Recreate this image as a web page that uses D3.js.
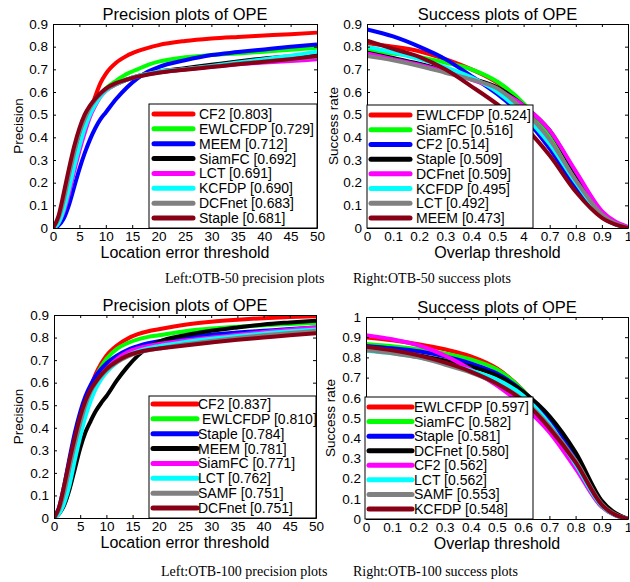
<!DOCTYPE html>
<html>
<head>
<meta charset="utf-8">
<script src="https://cdn.jsdelivr.net/npm/d3@7"></script>
<style>
  html, body { margin: 0; padding: 0; background: #fff; }
  svg { display: block; }
  .axis text { font-family: "Liberation Sans", Arial, sans-serif; font-size: 13.5px; fill: #000; }
  .axis path, .axis line { stroke: #000; stroke-width: 1; }
  .lbl { font-family: "Liberation Sans", Arial, sans-serif; fill: #000; }
  .cap { font-family: "Liberation Serif", "Times New Roman", serif; font-size: 14px; fill: #000; }
</style>
</head>
<body>
<div id="chart"></div>
<script>
// colours used by every panel, in legend order
var colors = ["#ff0000", "#00ff00", "#0000ff", "#000000", "#ff00ff", "#00ffff", "#808080", "#880015"];

// x values of the sampled points
var precX = [0,1,2,3,4,5,6,7,8,9,10,12,14,16,18,20,25,30,35,40,45,50];
var succX = [0,0.1,0.2,0.3,0.4,0.5,0.6,0.7,0.8,0.9,1];

// tick labels
var precXTicks = [0,5,10,15,20,25,30,35,40,45,50];
var precYTicks = [0,0.1,0.2,0.3,0.4,0.5,0.6,0.7,0.8,0.9];
var precYLabels = ["0","0.1","0.2","0.3","0.4","0.5","0.6","0.7","0.8","0.9"];
var succXTicks = [0,0.1,0.2,0.3,0.4,0.5,0.6,0.7,0.8,0.9,1];
var succXLabels50 = ["0","0.1","0.2","0.3","0.4","0.5","4","0.7","0.8","0.9","1"];
var succXLabels100 = ["0","0.1","0.2","0.3","0.4","0.5","0.6","0.7","0.8","0.9","1"];
var succYTicks100 = [0,0.1,0.2,0.3,0.4,0.5,0.6,0.7,0.8,0.9,1];
var succYLabels100 = ["0","0.1","0.2","0.3","0.4","0.5","0.6","0.7","0.8","0.9","1"];

// OTB-50 precision
var p50Names = ["CF2 [0.803]","EWLCFDP [0.729]","MEEM [0.712]","SiamFC [0.692]","LCT [0.691]","KCFDP [0.690]","DCFnet [0.683]","Staple [0.681]"];
var p50Values = [
  [0,0.03,0.09,0.17,0.27,0.36,0.44,0.51,0.58,0.64,0.68,0.73,0.76,0.78,0.795,0.807,0.825,0.836,0.843,0.849,0.855,0.862],
  [0,0.03,0.10,0.19,0.29,0.38,0.46,0.52,0.56,0.59,0.615,0.65,0.68,0.70,0.72,0.734,0.753,0.763,0.77,0.778,0.786,0.795],
  [0,0.01,0.04,0.10,0.18,0.26,0.33,0.39,0.44,0.48,0.51,0.57,0.62,0.66,0.69,0.71,0.74,0.763,0.776,0.788,0.80,0.81],
  [0,0.03,0.11,0.21,0.31,0.40,0.47,0.52,0.56,0.59,0.61,0.635,0.655,0.67,0.68,0.69,0.705,0.72,0.735,0.748,0.757,0.765],
  [0,0.02,0.07,0.15,0.25,0.34,0.42,0.49,0.54,0.58,0.605,0.635,0.655,0.67,0.68,0.688,0.70,0.712,0.722,0.73,0.737,0.744],
  [0,0.02,0.08,0.17,0.27,0.36,0.44,0.50,0.545,0.58,0.605,0.635,0.655,0.67,0.68,0.69,0.70,0.715,0.73,0.745,0.76,0.778],
  [0,0.04,0.12,0.23,0.33,0.42,0.48,0.53,0.565,0.59,0.61,0.635,0.655,0.668,0.678,0.686,0.70,0.712,0.725,0.735,0.745,0.755],
  [0,0.05,0.15,0.26,0.36,0.44,0.50,0.54,0.57,0.595,0.615,0.64,0.655,0.668,0.677,0.685,0.698,0.71,0.722,0.733,0.745,0.759]
];

// OTB-50 success
var s50Names = ["EWLCFDP [0.524]","SiamFC [0.516]","CF2 [0.514]","Staple [0.509]","DCFnet [0.509]","KCFDP [0.495]","LCT [0.492]","MEEM [0.473]"];
var s50Values = [
  [0.815,0.80,0.78,0.745,0.70,0.64,0.54,0.40,0.22,0.06,0],
  [0.785,0.77,0.755,0.73,0.70,0.645,0.55,0.41,0.22,0.055,0],
  [0.876,0.845,0.80,0.745,0.67,0.59,0.49,0.35,0.18,0.05,0],
  [0.773,0.75,0.725,0.695,0.66,0.62,0.54,0.43,0.24,0.065,0],
  [0.77,0.745,0.72,0.69,0.655,0.61,0.54,0.43,0.25,0.075,0.005],
  [0.80,0.775,0.745,0.71,0.665,0.60,0.50,0.37,0.20,0.055,0],
  [0.759,0.74,0.715,0.685,0.655,0.615,0.52,0.39,0.21,0.06,0],
  [0.826,0.79,0.755,0.70,0.625,0.545,0.45,0.32,0.16,0.045,0]
];

// OTB-100 precision
var p100Names = ["CF2 [0.837]"," EWLCFDP [0.810]","Staple [0.784]","MEEM [0.781]","SiamFC [0.771]","LCT [0.762]","SAMF [0.751]","DCFnet [0.751]"];
var p100Values = [
  [0,0.04,0.12,0.22,0.33,0.43,0.51,0.58,0.64,0.685,0.72,0.765,0.795,0.815,0.828,0.837,0.857,0.87,0.879,0.886,0.891,0.895],
  [0,0.04,0.12,0.22,0.33,0.43,0.51,0.575,0.625,0.67,0.705,0.75,0.775,0.792,0.803,0.81,0.828,0.84,0.848,0.854,0.86,0.865],
  [0,0.05,0.15,0.27,0.38,0.47,0.54,0.59,0.63,0.66,0.685,0.72,0.745,0.762,0.775,0.784,0.80,0.813,0.822,0.83,0.838,0.845],
  [0,0.02,0.06,0.13,0.22,0.31,0.38,0.43,0.475,0.51,0.54,0.61,0.67,0.72,0.757,0.781,0.81,0.83,0.845,0.858,0.867,0.875],
  [0,0.03,0.09,0.18,0.29,0.39,0.47,0.54,0.59,0.63,0.66,0.705,0.735,0.752,0.763,0.771,0.787,0.80,0.812,0.825,0.835,0.845],
  [0,0.02,0.07,0.15,0.26,0.36,0.45,0.52,0.575,0.615,0.645,0.69,0.72,0.74,0.753,0.762,0.78,0.795,0.807,0.818,0.828,0.836],
  [0,0.04,0.12,0.23,0.33,0.42,0.50,0.56,0.60,0.63,0.655,0.69,0.715,0.732,0.743,0.751,0.77,0.785,0.798,0.81,0.82,0.83],
  [0,0.05,0.15,0.26,0.36,0.45,0.52,0.57,0.605,0.635,0.66,0.695,0.72,0.735,0.745,0.751,0.765,0.778,0.79,0.80,0.81,0.819]
];

// OTB-100 success
var s100Names = ["EWLCFDP [0.597]","SiamFC [0.582]","Staple [0.581]","DCFnet [0.580]","CF2 [0.562]","LCT [0.562]","SAMF [0.553]","KCFDP [0.548]"];
var s100Values = [
  [0.899,0.885,0.865,0.84,0.805,0.745,0.635,0.475,0.265,0.065,0],
  [0.866,0.855,0.84,0.82,0.79,0.74,0.635,0.47,0.26,0.06,0],
  [0.857,0.845,0.83,0.805,0.77,0.72,0.63,0.49,0.30,0.08,0],
  [0.836,0.825,0.81,0.785,0.755,0.71,0.63,0.51,0.33,0.09,0],
  [0.91,0.89,0.86,0.81,0.74,0.66,0.56,0.43,0.25,0.06,0],
  [0.833,0.82,0.80,0.77,0.735,0.69,0.61,0.47,0.27,0.065,0],
  [0.835,0.82,0.80,0.765,0.725,0.67,0.59,0.46,0.29,0.075,0],
  [0.853,0.835,0.81,0.775,0.73,0.67,0.585,0.45,0.28,0.07,0]
];

var W = 630, H = 582;
var svg = d3.select("#chart").append("svg").attr("width", W).attr("height", H);

var panels = [
  {id:"p50", title:"Precision plots of OPE", xlab:"Location error threshold", ylab:"Precision",
   box:[53,317,24,228], xdom:[0,50], ydom:[0,0.9], xs:precX, names:p50Names, vals:p50Values,
   xt:precXTicks, xl:precXTicks.map(String), yt:precYTicks, yl:precYLabels,
   leg:[149,317,104,228], legLine:[154,193], legText:199, legRow0:114, ylabX:23},
  {id:"s50", title:"Success plots of OPE", xlab:"Overlap threshold", ylab:"Success rate",
   box:[367,628,24,228], xdom:[0,1], ydom:[0,0.9], xs:succX, names:s50Names, vals:s50Values,
   xt:succXTicks, xl:succXLabels50, yt:precYTicks, yl:precYLabels,
   leg:[367,533,105,228], legLine:[371,410], legText:416, legRow0:115, ylabX:338},
  {id:"p100", title:"Precision plots of OPE", xlab:"Location error threshold", ylab:"Precision",
   box:[54,316,315,518], xdom:[0,50], ydom:[0,0.9], xs:precX, names:p100Names, vals:p100Values,
   xt:precXTicks, xl:precXTicks.map(String), yt:precYTicks, yl:precYLabels,
   leg:[149,316,396,518], legLine:[153,197], legText:198, legRow0:404, ylabX:23},
  {id:"s100", title:"Success plots of OPE", xlab:"Overlap threshold", ylab:"Success rate",
   box:[366,628,317,519], xdom:[0,1], ydom:[0,1], xs:succX, names:s100Names, vals:s100Values,
   xt:succXTicks, xl:succXLabels100, yt:succYTicks100, yl:succYLabels100,
   leg:[365,533,397,519], legLine:[369,412], legText:414, legRow0:407, ylabX:335}
];

panels.forEach(function(p) {
  var L = p.box[0], R = p.box[1], T = p.box[2], B = p.box[3];
  var x = d3.scaleLinear().domain(p.xdom).range([L, R]);
  var y = d3.scaleLinear().domain(p.ydom).range([B, T]);
  var g = svg.append("g");

  g.append("clipPath").attr("id", "clip-" + p.id)
    .append("rect").attr("x", L).attr("y", T).attr("width", R - L).attr("height", B - T);

  // curves
  var line = d3.line()
    .x(function(d) { return x(d[0]); })
    .y(function(d) { return y(d[1]); })
    .curve(d3.curveMonotoneX);
  g.append("g").attr("clip-path", "url(#clip-" + p.id + ")")
    .selectAll("path").data(p.vals).enter().append("path")
    .attr("d", function(v) { return line(v.map(function(val, i) { return [p.xs[i], val]; })); })
    .attr("fill", "none")
    .attr("stroke", function(v, i) { return colors[i]; })
    .attr("stroke-width", 4)
    .attr("stroke-linejoin", "round");

  // axes, ticks pointing inward on all four sides
  g.append("g").attr("class", "axis").attr("transform", "translate(0," + B + ")")
    .call(d3.axisBottom(x).tickValues(p.xt).tickSizeInner(-3).tickSizeOuter(0).tickPadding(3)
      .tickFormat(function(d, i) { return p.xl[i]; }));
  g.append("g").attr("class", "axis").attr("transform", "translate(" + L + ",0)")
    .call(d3.axisLeft(y).tickValues(p.yt).tickSizeInner(-3).tickSizeOuter(0).tickPadding(5)
      .tickFormat(function(d, i) { return p.yl[i]; }));
  g.append("g").attr("class", "axis").attr("transform", "translate(0," + T + ")")
    .call(d3.axisTop(x).tickValues(p.xt).tickSizeInner(-3).tickSizeOuter(0).tickFormat(""));
  g.append("g").attr("class", "axis").attr("transform", "translate(" + R + ",0)")
    .call(d3.axisRight(y).tickValues(p.yt).tickSizeInner(-3).tickSizeOuter(0).tickFormat(""));

  // legend
  var lg = g.append("g");
  lg.append("rect")
    .attr("x", p.leg[0]).attr("y", p.leg[2])
    .attr("width", p.leg[1] - p.leg[0]).attr("height", p.leg[3] - p.leg[2])
    .attr("fill", "#fff").attr("stroke", "#000").attr("stroke-width", 1);
  var step = (p.leg[3] - p.legRow0 - 10) / 7;
  var rows = lg.selectAll("g.row").data(p.names).enter().append("g").attr("class", "row");
  rows.append("line")
    .attr("x1", p.legLine[0]).attr("x2", p.legLine[1])
    .attr("y1", function(d, i) { return p.legRow0 + i * step; })
    .attr("y2", function(d, i) { return p.legRow0 + i * step; })
    .attr("stroke", function(d, i) { return colors[i]; })
    .attr("stroke-width", 5).attr("stroke-linecap", "round");
  rows.append("text").attr("class", "lbl")
    .attr("x", p.legText)
    .attr("y", function(d, i) { return p.legRow0 + i * step + 5; })
    .style("font-size", "14px").style("white-space", "pre")
    .text(function(d) { return d; });

  // titles and axis labels
  g.append("text").attr("class", "lbl").attr("text-anchor", "middle")
    .attr("x", (L + R) / 2).attr("y", T - 4).style("font-size", "16.5px").text(p.title);
  g.append("text").attr("class", "lbl").attr("text-anchor", "middle")
    .attr("x", (L + R) / 2).attr("y", B + 30).style("font-size", "16px").text(p.xlab);
  g.append("text").attr("class", "lbl").attr("text-anchor", "middle")
    .attr("transform", "translate(" + p.ylabX + "," + ((T + B) / 2) + ") rotate(-90)")
    .style("font-size", "13.5px").text(p.ylab);
});

// captions under each row
var captions = [
  {text:"Left:OTB-50 precision plots", x:165, y:283},
  {text:"Right:OTB-50 success plots", x:353, y:283},
  {text:"Left:OTB-100 precision plots", x:161, y:576},
  {text:"Right:OTB-100 success plots", x:353, y:576}
];
svg.selectAll("text.cap").data(captions).enter().append("text").attr("class", "cap")
  .attr("x", function(d) { return d.x; }).attr("y", function(d) { return d.y; })
  .text(function(d) { return d.text; });
</script>
</body>
</html>
